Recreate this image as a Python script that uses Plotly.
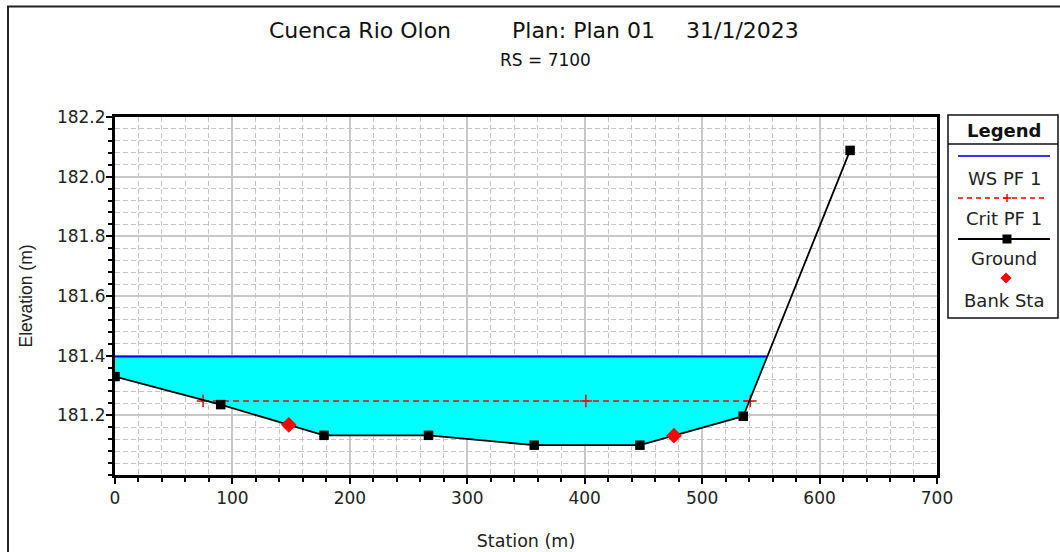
import numpy as np
import plotly.graph_objects as go

# ---- data ----
ground_sta = [0, 90, 178, 267, 357, 447, 535, 626]
ground_elev = [181.33, 181.236, 181.133, 181.133, 181.10, 181.10, 181.197, 182.088]
bank_sta = [148, 476]
ws_elev = 181.397
crit_sta = [75, 401, 541]
crit_elev = 181.248
x_ticks = [0, 100, 200, 300, 400, 500, 600, 700]
y_ticks = [181.2, 181.4, 181.6, 181.8, 182.0, 182.2]

gs = np.array(ground_sta, float)
ge = np.array(ground_elev, float)

# water polygon (surface down to ground)
wet = ge < ws_elev
idx_last = np.where(wet)[0].max()
x0, x1 = gs[idx_last], gs[idx_last + 1]
y0, y1 = ge[idx_last], ge[idx_last + 1]
x_right = x0 + (ws_elev - y0) / (y1 - y0) * (x1 - x0)
poly_x = [gs[0]] + list(gs[: idx_last + 1]) + [x_right, gs[0]]
poly_y = [ws_elev] + list(ge[: idx_last + 1]) + [ws_elev, ws_elev]

bank_elev = np.interp(bank_sta, gs, ge)

FONT = "DejaVu Sans"

fig = go.Figure()
fig.add_trace(go.Scatter(x=poly_x, y=poly_y, fill="toself", fillcolor="#00FFFF",
                         mode="none", showlegend=False, hoverinfo="skip"))
fig.add_trace(go.Scatter(x=[gs[0], x_right], y=[ws_elev, ws_elev], mode="lines",
                         line=dict(color="#0000FF", width=2), name="WS PF 1", showlegend=False))
fig.add_trace(go.Scatter(x=crit_sta, y=[crit_elev] * len(crit_sta), mode="lines+markers",
                         line=dict(color="#FF0000", width=1.3, dash="6px,4px"),
                         marker=dict(symbol="cross-thin", size=9, line=dict(color="#FF0000", width=1.5)),
                         name="Crit PF 1", showlegend=False))
fig.add_trace(go.Scatter(x=ground_sta, y=ground_elev, mode="lines+markers",
                         line=dict(color="#000000", width=1.8),
                         marker=dict(symbol="square", size=9.5, color="#000000"),
                         name="Ground", showlegend=False))
fig.add_trace(go.Scatter(x=bank_sta, y=bank_elev, mode="markers",
                         marker=dict(symbol="diamond", size=12, color="#FF0000"),
                         name="Bank Sta", showlegend=False))

L, R, T, B = 115, 937, 117, 475
W, H = 1060, 552
pw, ph = R - L, B - T


def px(x):
    return (x - L) / pw


def py(y):
    return (B - y) / ph


fig.update_layout(
    width=W, height=H,
    margin=dict(l=L, r=W - R, t=T, b=H - B, pad=0),
    paper_bgcolor="white", plot_bgcolor="white",
    font=dict(family=FONT, color="#222222"),
    showlegend=False,
)

fig.update_xaxes(
    range=[0, 700], tickvals=x_ticks, ticktext=[str(v) for v in x_ticks],
    ticks="outside", ticklen=6, tickwidth=1.5, tickcolor="black",
    showline=True, linewidth=3, linecolor="black", mirror=True,
    showgrid=True, gridcolor="#c8c8c8", gridwidth=1.5,
    minor=dict(dtick=20, tick0=0, ticks="outside", ticklen=4, tickcolor="black",
               showgrid=True, gridcolor="#c4c4c4", griddash="5px,3px", gridwidth=1),
    tickfont=dict(size=17, color="#222222"),
    title=dict(text="Station (m)", font=dict(size=17.5, color="#222222"), standoff=28),
    zeroline=False, automargin=False,
)
fig.update_yaxes(
    range=[181.0, 182.2], tickvals=y_ticks, ticktext=[f"{v:.1f}" for v in y_ticks],
    ticks="outside", ticklen=6, tickwidth=1.5, tickcolor="black",
    showline=True, linewidth=3, linecolor="black", mirror=True,
    showgrid=True, gridcolor="#c8c8c8", gridwidth=1.5,
    minor=dict(dtick=0.04, tick0=181.0, ticks="outside", ticklen=4, tickcolor="black",
               showgrid=True, gridcolor="#c4c4c4", griddash="5px,3px", gridwidth=1),
    tickfont=dict(size=17, color="#222222"),
    ticklabelstandoff=-3,
    title=dict(text="Elevation (m)", font=dict(size=17.5, color="#222222", family="Liberation Sans"),
               standoff=20),
    zeroline=False, automargin=False,
)

shapes = []
annots = []
# outer frame
shapes.append(dict(type="rect", xref="paper", yref="paper",
                   x0=px(8), x1=px(1063), y0=py(6.5), y1=py(560),
                   line=dict(color="#222222", width=2), layer="below"))
# titles
for txt, cx in [("Cuenca Rio Olon", 360), ("Plan: Plan 01", 583), ("31/1/2023", 742)]:
    annots.append(dict(text=txt, x=px(cx), y=py(30), xref="paper", yref="paper",
                       showarrow=False, xanchor="center", yanchor="middle",
                       font=dict(size=22, color="#111111")))
annots.append(dict(text="RS = 7100", x=px(545), y=py(60), xref="paper", yref="paper",
                   showarrow=False, xanchor="center", yanchor="middle",
                   font=dict(size=17, color="#111111")))

# legend box
lx0, lx1, ly0, ly1 = 948, 1058, 115, 318
shapes.append(dict(type="rect", xref="paper", yref="paper",
                   x0=px(lx0), x1=px(lx1), y0=py(ly0), y1=py(ly1),
                   line=dict(color="#111111", width=1.5), fillcolor="white"))
shapes.append(dict(type="line", xref="paper", yref="paper",
                   x0=px(lx0), x1=px(lx1), y0=py(144), y1=py(144),
                   line=dict(color="#111111", width=1.5)))
cxl = (lx0 + lx1) / 2
annots.append(dict(text="<b>Legend</b>", x=px(cxl + 1), y=py(130), xref="paper", yref="paper",
                   showarrow=False, xanchor="center", yanchor="middle",
                   font=dict(size=18, color="#111111")))
# WS
shapes.append(dict(type="line", xref="paper", yref="paper", x0=px(958), x1=px(1050),
                   y0=py(156), y1=py(156), line=dict(color="#3333FF", width=2)))
# Crit
shapes.append(dict(type="line", xref="paper", yref="paper", x0=px(958), x1=px(1047),
                   y0=py(198), y1=py(198), line=dict(color="#FF0000", width=1.3, dash="5px,4px")))
shapes.append(dict(type="line", xref="paper", yref="paper", x0=px(1007), x1=px(1007),
                   y0=py(194), y1=py(202), line=dict(color="#FF0000", width=1.5)))
shapes.append(dict(type="line", xref="paper", yref="paper", x0=px(1003), x1=px(1011),
                   y0=py(198), y1=py(198), line=dict(color="#FF0000", width=1.5)))
# Ground
shapes.append(dict(type="line", xref="paper", yref="paper", x0=px(958), x1=px(1050),
                   y0=py(239), y1=py(239), line=dict(color="#000000", width=1.8)))
shapes.append(dict(type="rect", xref="paper", yref="paper", x0=px(1002.5), x1=px(1011.5),
                   y0=py(234.5), y1=py(243.5), line=dict(width=0), fillcolor="#000000"))
# Bank diamond
shapes.append(dict(type="path", xref="paper", yref="paper",
                   path=f"M {px(1006)} {py(272.5)} L {px(1011.5)} {py(278)} L {px(1006)} {py(283.5)} L {px(1000.5)} {py(278)} Z",
                   line=dict(width=0), fillcolor="#FF0000"))
for txt, yy in [("WS PF 1", 178), ("Crit PF 1", 218), ("Ground", 258), ("Bank Sta", 300)]:
    annots.append(dict(text=txt, x=px(1004), y=py(yy), xref="paper", yref="paper",
                       showarrow=False, xanchor="center", yanchor="middle",
                       font=dict(size=18, color="#222222")))

fig.update_layout(shapes=shapes, annotations=annots)
fig.write_html("out.html", config={"displayModeBar": False},
               post_script="document.body.style.margin='0';document.body.style.overflow='hidden';")
